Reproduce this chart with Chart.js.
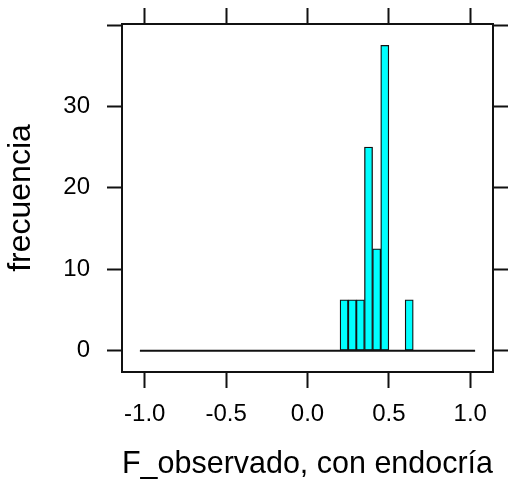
<!DOCTYPE html>
<html>
<head>
<meta charset="utf-8">
<script src="https://cdn.jsdelivr.net/npm/chart.js@4.4.1/dist/chart.umd.min.js"></script>
<style>
    html, body { margin: 0; padding: 0; background: #fff; }
    #wrap { width: 508px; height: 483px; }
</style>
</head>
<body>
<div id="wrap"><canvas id="histo" width="508" height="483"></canvas></div>
<script>
// datos del histograma (porcentaje por clase)
const binStarts = [0.20, 0.25, 0.30, 0.35, 0.40, 0.45, 0.50, 0.55, 0.60];
const frecuencia = [6.25, 6.25, 6.25, 25, 12.5, 37.5, 0, 0, 6.25];
const binWidth = 0.05;
const baselineX = [-1.03, 1.03];
const xTicks = [-1.0, -0.5, 0.0, 0.5, 1.0];
const yTicks = [0, 10, 20, 30, 40];
const xLim = [-1.14, 1.14];
const yLim = [-2.625, 40.125];

Chart.defaults.font.family = "'Liberation Sans', Arial, sans-serif";
Chart.defaults.color = '#000';

const barData = binStarts.map((b, i) => ({ x: b + binWidth / 2, y: frecuencia[i] }));
const lineData = baselineX.map(x => ({ x: x, y: 0 }));

function fixTicks(values) {
    return function (axis) {
        axis.ticks = values.map(v => ({ value: v }));
    };
}

// tamaño fijo de cada eje, sin relleno extra
function fixSize(prop, size) {
    return function (s) {
        s[prop] = size;
        s.paddingTop = 0;
        s.paddingBottom = 0;
        s.paddingLeft = 0;
        s.paddingRight = 0;
    };
}

const tickGrid = {
    offset: false,
    drawOnChartArea: false,
    drawTicks: true,
    tickLength: 15,
    tickColor: '#111',
    tickWidth: 2
};
const axisBorder = { display: true, color: '#111', width: 2 };

new Chart(document.getElementById('histo').getContext('2d'), {
    type: 'bar',
    data: {
        datasets: [{
            type: 'line',
            data: lineData,
            borderColor: '#111',
            borderWidth: 2,
            pointRadius: 0,
            xAxisID: 'x',
            yAxisID: 'y'
        }, {
            data: barData,
            backgroundColor: '#00FFFF',
            borderColor: '#111',
            borderWidth: 1.3,
            borderSkipped: false,
            barPercentage: 1,
            categoryPercentage: 1,
            xAxisID: 'x',
            yAxisID: 'y'
        }]
    },
    options: {
        responsive: false,
        animation: false,
        layout: { padding: 0 },
        plugins: {
            legend: { display: false },
            tooltip: { enabled: false }
        },
        scales: {
            x: {
                type: 'linear',
                position: 'bottom',
                min: xLim[0],
                max: xLim[1],
                offset: false,
                afterBuildTicks: fixTicks(xTicks),
                afterFit: fixSize('height', 111),
                grid: Object.assign({}, tickGrid, { tickLength: 16 }),
                border: axisBorder,
                ticks: {
                    font: { size: 24 },
                    padding: 12,
                    maxRotation: 0,
                    autoSkip: false,
                    callback: v => Number(v).toFixed(1)
                },
                title: {
                    display: true,
                    text: 'F_observado, con endocría',
                    font: { size: 32, lineHeight: 1.2 },
                    padding: { top: 0, bottom: 0 }
                }
            },
            x2: {
                type: 'linear',
                position: 'top',
                min: xLim[0],
                max: xLim[1],
                offset: false,
                afterBuildTicks: fixTicks(xTicks),
                afterFit: fixSize('height', 24),
                grid: Object.assign({}, tickGrid, { tickLength: 16 }),
                border: axisBorder,
                ticks: { display: false }
            },
            y: {
                type: 'linear',
                position: 'left',
                min: yLim[0],
                max: yLim[1],
                afterBuildTicks: fixTicks(yTicks),
                afterFit: fixSize('width', 122),
                grid: tickGrid,
                border: axisBorder,
                ticks: {
                    font: { size: 24 },
                    padding: 17,
                    autoSkip: false,
                    callback: v => (v === 40 ? '' : String(v))
                },
                title: {
                    display: true,
                    text: 'frecuencia',
                    font: { size: 32, lineHeight: 1.2 },
                    padding: { top: 2, bottom: 0 }
                }
            },
            y2: {
                type: 'linear',
                position: 'right',
                min: yLim[0],
                max: yLim[1],
                afterBuildTicks: fixTicks(yTicks),
                afterFit: fixSize('width', 15),
                grid: tickGrid,
                border: axisBorder,
                ticks: { display: false }
            }
        }
    }
});
</script>
</body>
</html>
